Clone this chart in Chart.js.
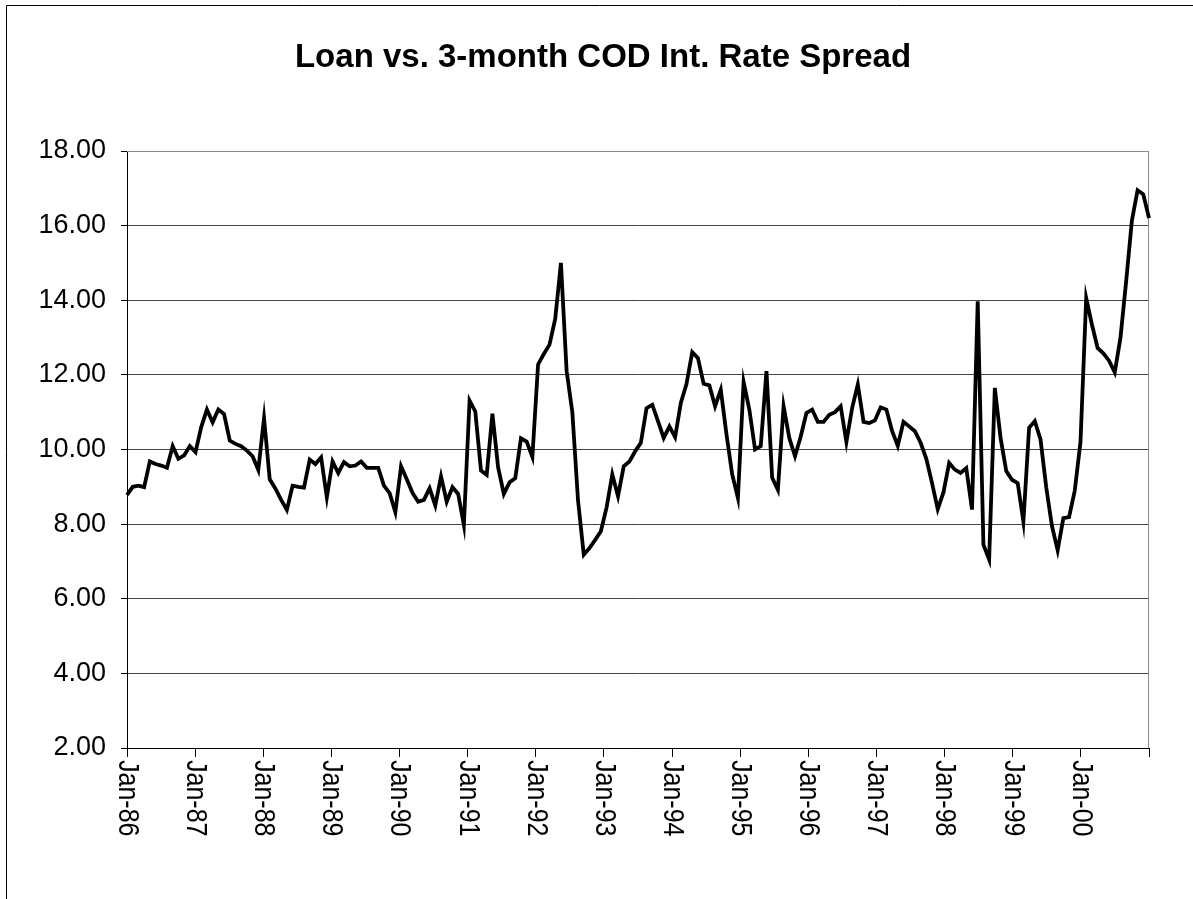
<!DOCTYPE html>
<html>
<head>
<meta charset="utf-8">
<script src="https://cdn.jsdelivr.net/npm/chart.js@4.4.0/dist/chart.umd.min.js"></script>
<style>
html,body{margin:0;padding:0;background:#fff;}
#wrap{width:1193px;height:899px;position:relative;}
</style>
</head>
<body>
<div id="wrap"><canvas id="c" width="1193" height="899"></canvas></div>
<script>
const years = ['86','87','88','89','90','91','92','93','94','95','96','97','98','99','00'];
const monthNames = ['Jan','Feb','Mar','Apr','May','Jun','Jul','Aug','Sep','Oct','Nov','Dec'];
const categories = years.flatMap(y => monthNames.map(m => m + '-' + y));
const tickLabels = ['Jan-86','Jan-87','Jan-88','Jan-89','Jan-90','Jan-91','Jan-92','Jan-93','Jan-94','Jan-95','Jan-96','Jan-97','Jan-98','Jan-99','Jan-00'];
const yTicks = [2,4,6,8,10,12,14,16,18];

const spread = [
  8.78, 9.00, 9.03, 8.99, 9.68, 9.61, 9.57, 9.51, 10.09, 9.75, 9.84, 10.09,
  9.93, 10.60, 11.07, 10.73, 11.07, 10.95, 10.24, 10.15, 10.09, 9.97, 9.82, 9.45,
  10.84, 9.20, 8.95, 8.65, 8.38, 9.03, 9.00, 8.98, 9.73, 9.61, 9.79, 8.72,
  9.68, 9.37, 9.66, 9.55, 9.57, 9.68, 9.51, 9.51, 9.51, 9.03, 8.83, 8.32,
  9.55, 9.20, 8.84, 8.60, 8.65, 8.96, 8.50, 9.28, 8.60, 8.99, 8.81, 7.98,
  11.31, 11.02, 9.44, 9.32, 10.96, 9.52, 8.81, 9.12, 9.23, 10.30, 10.21, 9.80,
  12.28, 12.56, 12.81, 13.50, 15.00, 12.10, 11.00, 8.63, 7.18, 7.36, 7.58, 7.81,
  8.45, 9.33, 8.75, 9.55, 9.68, 9.95, 10.18, 11.11, 11.20, 10.76, 10.31, 10.62,
  10.33, 11.25, 11.76, 12.61, 12.45, 11.76, 11.72, 11.16, 11.60, 10.40, 9.33, 8.70,
  11.81, 11.07, 10.00, 10.09, 12.10, 9.24, 8.92, 11.16, 10.31, 9.82, 10.35, 10.98,
  11.07, 10.74, 10.74, 10.93, 11.00, 11.16, 10.20, 11.11, 11.74, 10.74, 10.71, 10.78,
  11.13, 11.07, 10.50, 10.10, 10.74, 10.62, 10.49, 10.18, 9.75, 9.10, 8.40, 8.85,
  9.64, 9.46, 9.37, 9.50, 8.39, 13.97, 7.45, 7.05, 11.65, 10.31, 9.42, 9.19,
  9.10, 8.07, 10.58, 10.76, 10.27, 8.99, 7.95, 7.30, 8.16, 8.19, 8.90, 10.20,
  14.06, 13.35, 12.72, 12.58, 12.38, 12.07, 12.99, 14.51, 16.13, 16.95, 16.84, 16.20
];

const FONT = '"Liberation Sans", Arial, Helvetica, sans-serif';
Chart.defaults.font.family = FONT;
Chart.defaults.color = '#000';

const framePlugin = {
  id: 'frame',
  beforeDraw(chart) {
    const c = chart.ctx;
    c.save();
    c.fillStyle = '#fff';
    c.fillRect(0, 0, chart.width, chart.height);
    c.strokeStyle = '#000';
    c.lineWidth = 1;
    c.beginPath();
    c.moveTo(6.5, 899);
    c.lineTo(6.5, 5.5);
    c.lineTo(1193, 5.5);
    c.stroke();
    c.restore();
  },
  beforeDatasetsDraw(chart) {
    const a = chart.chartArea, c = chart.ctx;
    c.save();
    c.strokeStyle = '#8a8a8a';
    c.lineWidth = 1;
    c.beginPath();
    c.moveTo(a.left, a.top + 0.5);
    c.lineTo(a.right - 0.5, a.top + 0.5);
    c.lineTo(a.right - 0.5, a.bottom);
    c.stroke();
    c.restore();
  },
  afterDraw(chart) {
    const s = chart.scales.xt, c = chart.ctx;
    const y0 = chart.chartArea.bottom + 12;
    c.save();
    c.fillStyle = '#000';
    c.font = '25px ' + FONT;
    tickLabels.forEach((lab, k) => {
      const x = s.getPixelForValue(k);
      c.save();
      c.translate(x, y0);
      c.scale(1.18, 1);
      c.rotate(Math.PI / 2);
      c.textAlign = 'left';
      c.textBaseline = 'middle';
      c.fillText(lab, 0, 0);
      c.restore();
    });
    c.restore();
  }
};

new Chart(document.getElementById('c'), {
  type: 'line',
  data: {
    labels: categories,
    datasets: [{
      data: spread,
      borderColor: '#000',
      borderWidth: 3.8,
      pointRadius: 0,
      tension: 0,
      fill: false,
      xAxisID: 'x',
      yAxisID: 'y'
    }]
  },
  options: {
    responsive: false,
    animation: false,
    devicePixelRatio: 1,
    layout: { padding: { left: 13, right: 0, top: 0, bottom: 142 } },
    plugins: {
      legend: { display: false },
      tooltip: { enabled: false },
      title: {
        display: true,
        text: 'Loan vs. 3-month COD Int. Rate Spread',
        color: '#000',
        font: { family: FONT, size: 33, weight: 'bold' },
        padding: { top: 38.2, bottom: 73.2 }
      }
    },
    scales: {
      x: { type: 'category', display: false, offset: false },
      xt: {
        type: 'linear',
        position: 'bottom',
        min: 0,
        max: tickLabels.length,
        ticks: { display: false, stepSize: 1 },
        grid: { drawOnChartArea: false, drawTicks: true, tickLength: 9, color: '#000', lineWidth: 1 },
        border: { display: true, color: '#000', width: 1 }
      },
      y: {
        min: yTicks[0],
        max: yTicks[yTicks.length - 1],
        afterBuildTicks: s => { s.ticks = yTicks.map(v => ({ value: v })); },
        ticks: {
          callback: v => Number(v).toFixed(2),
          font: { family: FONT, size: 27 },
          color: '#000',
          padding: 15
        },
        grid: {
          color: c => (c.tick && c.tick.value === 18) ? '#8a8a8a' : '#444',
          tickColor: '#000',
          tickLength: 6,
          lineWidth: 1
        },
        border: { color: '#000', width: 1 },
        afterFit: s => { s.width = 114; }
      },
      yr: {
        type: 'linear',
        position: 'right',
        min: yTicks[0],
        max: yTicks[yTicks.length - 1],
        ticks: { display: false },
        grid: { display: false, drawOnChartArea: false, drawTicks: false },
        border: { display: false },
        afterFit: s => { s.width = 44; }
      }
    }
  },
  plugins: [framePlugin]
});
</script>
</body>
</html>
